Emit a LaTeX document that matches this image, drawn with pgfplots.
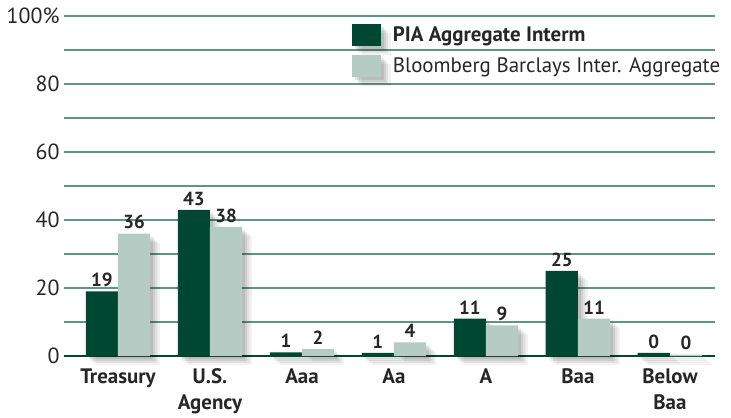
\documentclass[border=0pt]{standalone}
\usepackage{fontspec}
\setmainfont{PT Sans}
\usepackage{pgfplots}
\pgfplotsset{compat=1.18}
\definecolor{darkg}{HTML}{004731}
\definecolor{lightg}{HTML}{B5CCC4}
\definecolor{gridg}{HTML}{5F9584}
\tikzset{
  softshadow/.style={
    preaction={fill=black, opacity=0.05, transform canvas={shift={(10bp,-9bp)}}},
    preaction={fill=black, opacity=0.07, transform canvas={shift={(7.5bp,-7bp)}}},
    preaction={fill=black, opacity=0.08, transform canvas={shift={(5bp,-5bp)}}},
    preaction={fill=black, opacity=0.09, transform canvas={shift={(3bp,-3bp)}}},
  }
}
\begin{document}
\begin{tikzpicture}
\begin{axis}[
  name=ax,
  scale only axis,
  width=651bp, height=340bp,
  xmin=-0.587, xmax=6.49,
  ymin=0, ymax=100,
  ybar=0pt, bar width=0.35,
  xtick={0,1,2,3,4,5,6},
  xticklabels={Treasury,{U.S.\\Agency},Aaa,Aa,A,Baa,{Below\\Baa}},
  xticklabel style={font=\fontsize{21}{26}\selectfont\bfseries, align=center, text=black!85, yshift=-9bp},
  ytick={0,20,40,60,80,100},
  yticklabels={0,20,40,60,80,100\%},
  yticklabel style={font=\fontsize{22}{24}\selectfont, text=black!85, xshift=-1bp},
  /pgf/number format/assume math mode=true,
  minor ytick={10,30,50,70,90},
  ymajorgrids, yminorgrids,
  major grid style={draw=gridg, line width=1.3bp},
  minor grid style={draw=gridg, line width=1.3bp},
  major tick length=0pt, minor tick length=0pt,
  axis lines*=left,
  y axis line style={draw=none},
  x axis line style={draw=darkg, line width=2.5bp, -},
  clip=false,
  nodes near coords,
  point meta=explicit symbolic,
  every node near coord/.append style={font=\fontsize{19}{22}\selectfont\bfseries, text=black!85, yshift=1bp},
  legend style={at={(rel axis cs:0.442,0.977)}, anchor=north west, draw=none, fill=none,
    inner sep=0pt, row sep=9bp, font=\fontsize{21}{24}\selectfont, text=black!85,
    /tikz/every odd column/.style={column sep=10bp}},
  legend cell align=left,
  legend image code/.code={\fill[#1] (0bp,-11bp) rectangle (29bp,11bp);},
]
\addplot[fill=darkg, draw=none, softshadow]
  coordinates {(0,19)[19] (1,43)[43] (2,1.1)[1] (3,0.9)[1] (4,11)[11] (5,25)[25] (6,0.9)[0]};
\addplot[fill=lightg, draw=none, softshadow]
  coordinates {(0,36)[36] (1,38)[38] (2,2)[2] (3,4)[4] (4,9)[9] (5,11)[11] (6,0.4)[0]};
\legend{\textbf{PIA Aggregate Interm}, Bloomberg Barclays Inter. Aggregate}
\end{axis}
\pgfresetboundingbox
\path ([xshift=-64bp,yshift=-62bp]ax.south west) rectangle ([xshift=16bp,yshift=16bp]ax.north east);
\end{tikzpicture}
\end{document}
